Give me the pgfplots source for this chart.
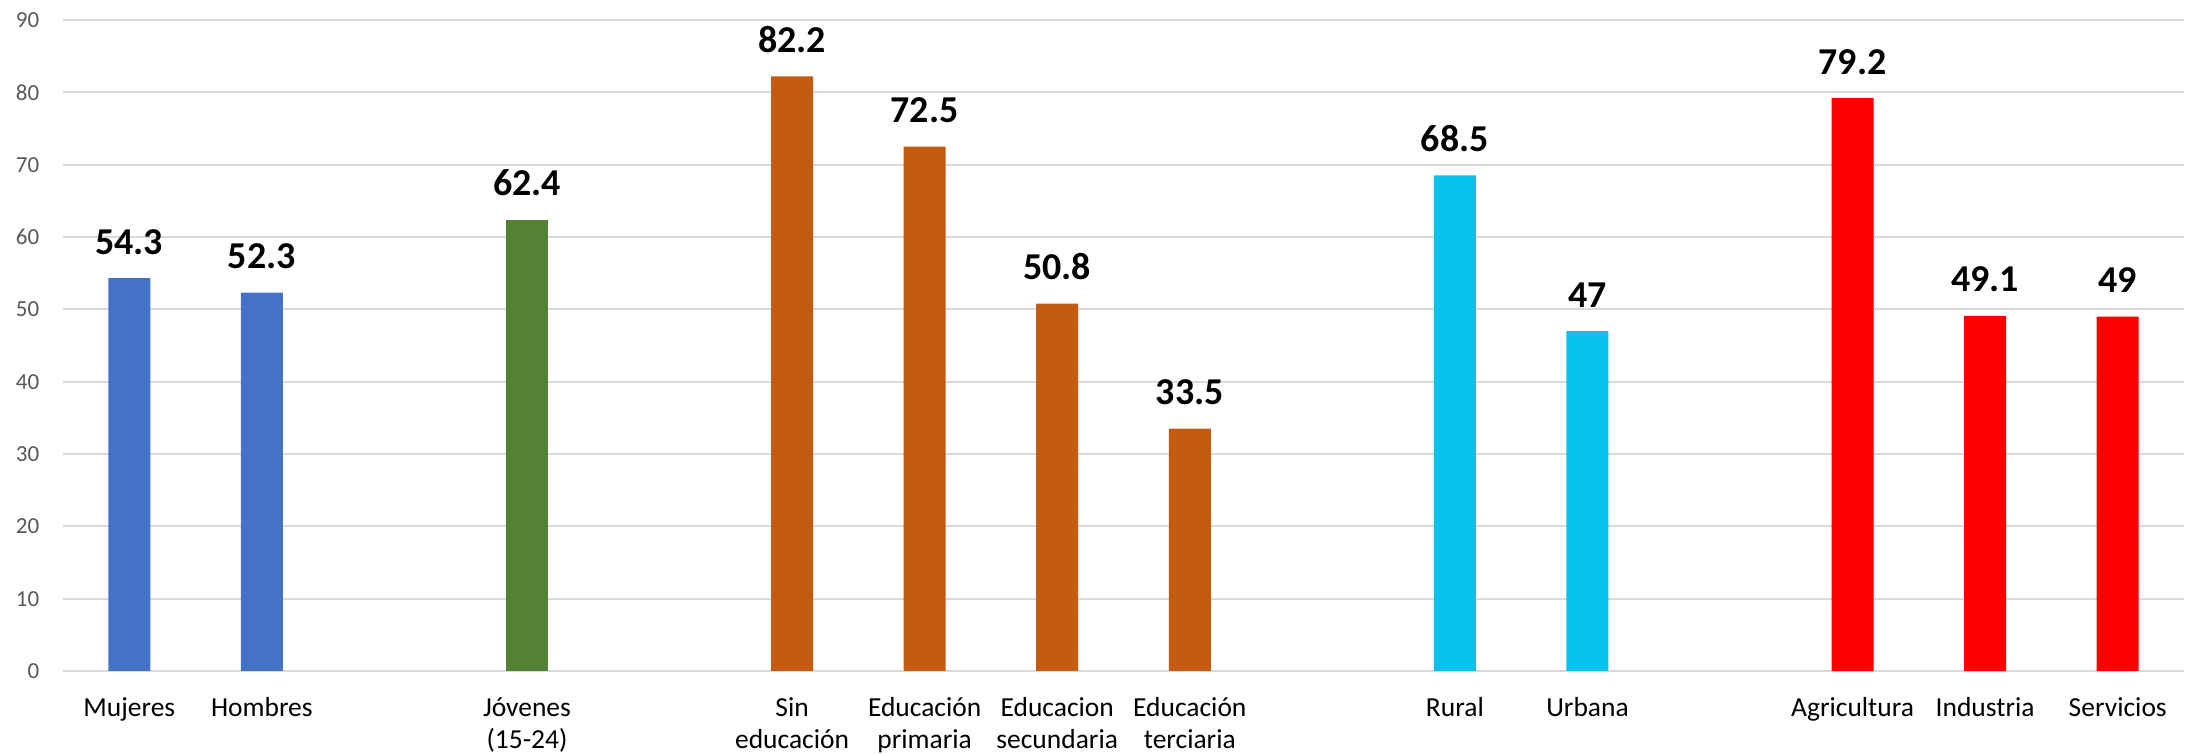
\documentclass[border=0pt]{standalone}
\usepackage{fontspec}
\setmainfont{Carlito}
\usepackage{pgfplots}
\pgfplotsset{compat=1.18}
\usetikzlibrary{calc}
\definecolor{cblue}{HTML}{4472C4}
\definecolor{cgreen}{HTML}{548235}
\definecolor{corange}{HTML}{C55A11}
\definecolor{ccyan}{HTML}{08C1EC}
\definecolor{cred}{HTML}{FF0000}
\definecolor{gridgray}{HTML}{D9D9D9}
\definecolor{tickgray}{HTML}{595959}

\begin{document}
\begin{tikzpicture}
    \begin{axis}[
        name=ax,
        scale only axis,
        width=212.1mm,
        height=65.1mm,
        xmin=-0.5, xmax=15.5,
        ymin=0, ymax=90,
        ytick distance=10,
        ymajorgrids,
        grid style={gridgray,line width=0.2mm},
        axis line style={draw=none},
        tick style={draw=none},
        ybar,
        bar width=4.2mm,
        bar shift=0pt,
        /pgf/number format/assume math mode=true,
        yticklabel style={font=\fontsize{6.54pt}{7.8pt}\selectfont,text=tickgray,inner sep=0pt,xshift=-2.3mm},
        xtick={0,1,3,5,6,7,8,10,11,13,14,15},
        xticklabels={
            \strut Mujeres,
            \strut Hombres,
            \strut Jóvenes\\(15-24),
            \strut Sin\\educación,
            \strut Educación\\primaria,
            \strut Educacion\\secundaria,
            \strut Educación\\terciaria,
            \strut Rural,
            \strut Urbana,
            \strut Agricultura,
            \strut Industria,
            \strut Servicios},
        xticklabel style={font=\fontsize{7.82pt}{9.1pt}\selectfont,align=center,anchor=north,inner sep=0pt,yshift=-0.7mm},
        nodes near coords,
        every node near coord/.append style={font=\fontsize{10.8pt}{12pt}\selectfont\bfseries,text=black,anchor=south,inner sep=0pt,yshift=2.3mm},
    ]
        % Sexo
        \addplot[fill=cblue,draw=none] coordinates {(0,54.3) (1,52.3)};
        % Jovenes
        \addplot[fill=cgreen,draw=none] coordinates {(3,62.4)};
        % Educacion
        \addplot[fill=corange,draw=none] coordinates {(5,82.2) (6,72.5) (7,50.8) (8,33.5)};
        % Area
        \addplot[fill=ccyan,draw=none] coordinates {(10,68.5) (11,47)};
        % Sector
        \addplot[fill=cred,draw=none] coordinates {(13,79.2) (14,49.1) (15,49)};
    \end{axis}
    \pgfresetboundingbox
    \path[use as bounding box] ($(ax.south west)+(-6.3mm,-8.3mm)$) rectangle ($(ax.north east)+(0.4mm,2.0mm)$);
\end{tikzpicture}
\end{document}
